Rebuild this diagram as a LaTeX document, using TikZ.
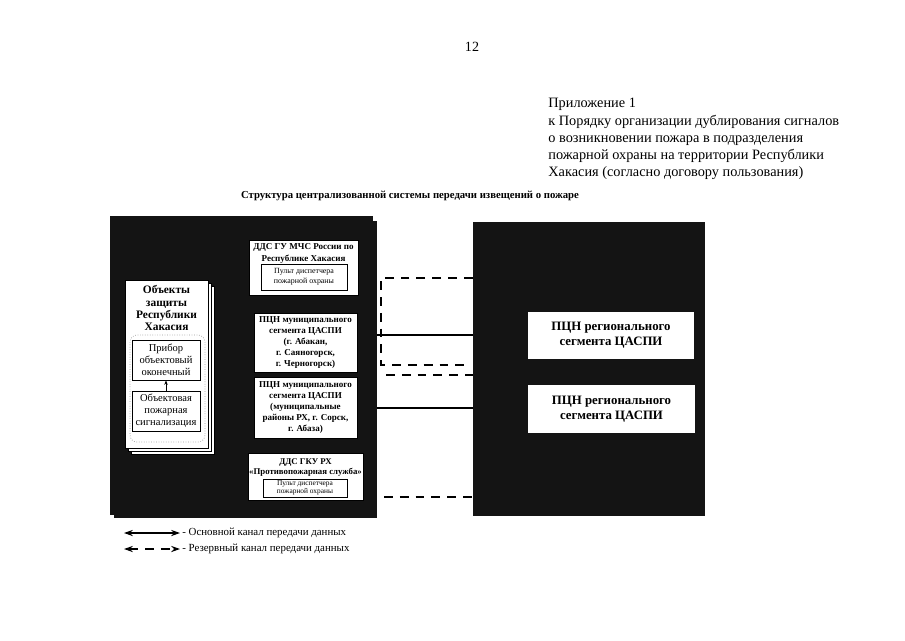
\documentclass[tikz,border=0pt]{standalone}
\usepackage{fontspec}
\setmainfont{Liberation Serif}
\usetikzlibrary{arrows.meta}

\begin{document}
\begin{tikzpicture}[x=0.02cm,y=-0.02cm,
    wbox/.style={draw=black,fill=white,line width=0.5pt,inner sep=0pt},
    blk/.style={fill=black!92,draw=none},
    boxtxt/.style={font=\fontsize{5.15}{6.35}\selectfont\bfseries},
    pulttxt/.style={font=\fontsize{4.5}{5.6}\selectfont},
    mainline/.style={line width=1pt},
    spare/.style={line width=1pt,dash pattern=on 5pt off 4pt}]
  \useasboundingbox (0,0) rectangle (905,640);

  % header
  \node[font=\fontsize{8}{9.6}\selectfont] (pagenum) at (472,47) {12};
  \node[anchor=north west,inner sep=0pt,align=left,font=\fontsize{8.15}{9.8}\selectfont] (appendix) at (548,98)
    {Приложение 1\\
     к Порядку организации дублирования сигналов\\
     о возникновении пожара в подразделения\\
     пожарной охраны на территории Республики\\
     Хакасия (согласно договору пользования)};
  \node[font=\fontsize{6.1}{7}\selectfont\bfseries] (title) at (410,196)
    {Структура централизованной системы передачи извещений о пожаре};

  % black fields
  \fill[blk] (114,221) rectangle (377,518);
  \fill[blk] (110,216) rectangle (373,515);
  \node[blk,minimum width=232*0.02cm,minimum height=294*0.02cm,inner sep=0pt] (rblk) at (589,369) {};
  \coordinate (lblk) at (377,369);

  % objects of protection (stacked sheets)
  \draw[wbox] (131,286) rectangle (214,454);
  \draw[wbox] (128,283) rectangle (211,451);
  \node[wbox,minimum width=83*0.02cm,minimum height=168*0.02cm] (objs) at (166.5,364) {};
  \node[anchor=north,align=center,inner sep=0pt,font=\fontsize{6.5}{7.1}\selectfont\bfseries] (objtitle) at (166.5,285)
    {Объекты\\защиты\\Республики\\Хакасия};
  \draw[black!40,densely dotted,rounded corners=4pt] (130,335) rectangle (205,442);
  \node[wbox,minimum width=68*0.02cm,minimum height=40*0.02cm,align=center,font=\fontsize{6}{6.8}\selectfont] (pribor) at (166,360)
    {Прибор\\объектовый\\оконечный};
  \node[wbox,minimum width=68*0.02cm,minimum height=40*0.02cm,align=center,font=\fontsize{6}{6.8}\selectfont] (signal) at (166,411)
    {Объектовая\\пожарная\\сигнализация};
  \draw[-{Stealth[length=2.5pt,width=2pt]},line width=0.4pt] (signal) -- (pribor);

  % middle column
  \node[wbox,minimum width=109*0.02cm,minimum height=55*0.02cm] (ddsmchs) at (303.5,267.5) {};
  \node[anchor=north,align=center,inner sep=0pt,font=\fontsize{5.15}{6.8}\selectfont\bfseries] (ddsmchstxt) at (303.5,243)
    {ДДС ГУ МЧС России по\\Республике Хакасия};
  \node[wbox,minimum width=86*0.02cm,minimum height=26*0.02cm,align=center,pulttxt] (pult1) at (304,277)
    {Пульт диспетчера\\пожарной охраны};
  \node[wbox,minimum width=103*0.02cm,minimum height=59*0.02cm,align=center,boxtxt] (pcn1) at (305.5,342.5)
    {ПЦН муниципального\\сегмента ЦАСПИ\\(г. Абакан,\\г. Саяногорск,\\г. Черногорск)};
  \node[wbox,minimum width=103*0.02cm,minimum height=61*0.02cm,align=center,boxtxt] (pcn2) at (305.5,407.5)
    {ПЦН муниципального\\сегмента ЦАСПИ\\(муниципальные\\районы РХ, г. Сорск,\\г. Абаза)};
  \node[wbox,minimum width=115*0.02cm,minimum height=47*0.02cm] (ddsgku) at (305.5,476.5) {};
  \node[anchor=north,align=center,inner sep=0pt,font=\fontsize{5}{5.6}\selectfont\bfseries] (ddsgkutxt) at (305.5,458)
    {ДДС ГКУ РХ\\«Противопожарная служба»};
  \node[wbox,minimum width=84*0.02cm,minimum height=18*0.02cm,align=center,font=\fontsize{4.2}{4.7}\selectfont] (pult2) at (305,488)
    {Пульт диспетчера\\пожарной охраны};

  % regional receivers
  \node[wbox,draw=none,minimum width=166*0.02cm,minimum height=47*0.02cm,align=center,font=\fontsize{7.3}{8.5}\selectfont\bfseries] (reg1) at (611,335.5)
    {ПЦН регионального\\сегмента ЦАСПИ};
  \node[wbox,draw=none,minimum width=167*0.02cm,minimum height=48*0.02cm,align=center,font=\fontsize{7.3}{8.5}\selectfont\bfseries] (reg2) at (611.5,409)
    {ПЦН регионального\\сегмента ЦАСПИ};

  % channels
  \draw[spare] (rblk.west |- 0,278) -- (381,278) -- (381,365) -- (468,365);
  \draw[mainline] (lblk |- 0,335) -- (rblk.west |- 0,335);
  \draw[spare] (386,375) -- (rblk.west |- 0,375);
  \draw[mainline] (lblk |- 0,408) -- (rblk.west |- 0,408);
  \draw[spare] (384,497) -- (rblk.west |- 0,497);

  % legend
  \draw[{Stealth[length=5pt,width=3.5pt]}-{Stealth[length=5pt,width=3.5pt]},line width=0.8pt]
    (124,533) coordinate (lg1a) -- (180,533) coordinate (lg1b);
  \node[anchor=west,inner sep=0pt,font=\fontsize{6.2}{7.5}\selectfont] (lg1) at (182,533)
    {- Основной канал передачи данных};
  \draw[{Stealth[length=5pt,width=3.5pt]}-{Stealth[length=5pt,width=3.5pt]},line width=0.8pt,dash pattern=on 5pt off 4pt]
    (124,549) coordinate (lg2a) -- (180,549) coordinate (lg2b);
  \node[anchor=west,inner sep=0pt,font=\fontsize{6.2}{7.5}\selectfont] (lg2) at (182,549)
    {- Резервный канал передачи данных};
\end{tikzpicture}
\end{document}
